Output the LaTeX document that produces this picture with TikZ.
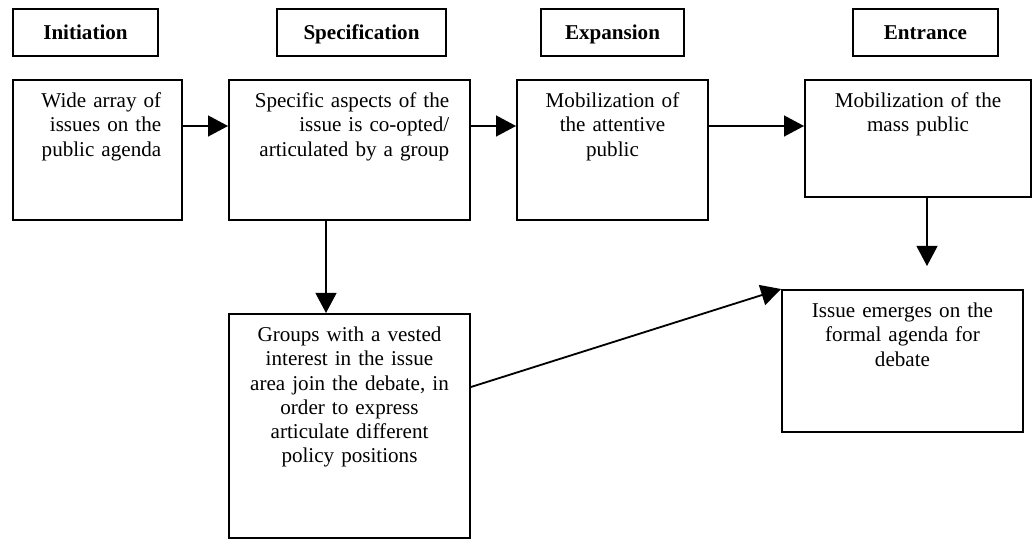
\documentclass[tikz,border=0pt]{standalone}
\usepackage{fontspec}
\setmainfont{Liberation Serif}
\usetikzlibrary{arrows.meta}

\begin{document}
\begin{tikzpicture}[x=0.025cm, y=-0.025cm, line width=1.3pt,
    >={Triangle[length=0.5cm, width=0.52cm]},
    stage/.style={draw, rectangle, minimum height=1.175cm, text height=0.35cm, text depth=0pt,
        font=\fontsize{15pt}{17.1pt}\selectfont\bfseries},
    box/.style={draw, rectangle, anchor=north, inner ysep=0pt, text height=0.7cm,
        font=\fontsize{15pt}{17.1pt}\selectfont},
    rbox/.style={box, align=right, inner xsep=0.52cm},
    cbox/.style={box, align=center, inner xsep=0.2cm}]
    \useasboundingbox (0,0) rectangle (1034,539);

    % Stages
    \node[stage, minimum width=3.625cm] (init) at (85.5,32.5) {Initiation};
    \node[stage, minimum width=4.225cm] (specif) at (361.5,32.5) {Specification};
    \node[stage, minimum width=3.575cm] (expan) at (612.5,32.5) {Expansion};
    \node[stage, minimum width=3.625cm] (entr) at (925.5,32.5) {Entrance};

    % Nodes
    \node[rbox, text width=3.185cm, text depth=2.8cm] (issues) at (97.5,79) {Wide array of\\issues on the\\public agenda};
    \node[rbox, text width=4.985cm, text depth=2.8cm] (coopt) at (349.5,79) {Specific aspects of the\\issue is co-opted/\\articulated by a group};
    \node[cbox, text width=4.375cm, text depth=2.8cm] (attentive) at (612.5,79) {Mobilization of\\the attentive\\public};
    \node[cbox, text width=5.25cm, text depth=2.225cm] (masspub) at (918,79) {Mobilization of the\\mass public};
    \node[cbox, text width=5.625cm, text depth=4.9cm] (groups) at (349.5,313) {Groups with a vested\\interest in the issue\\area join the debate, in\\order to express\\articulate different\\policy positions};
    \node[cbox, text width=5.625cm, text depth=2.85cm] (formal) at (902.5,289) {Issue emerges on the\\formal agenda for\\debate};

    % Arrows
    \coordinate (row) at (0,126);
    \coordinate (dropa) at (326,0);
    \coordinate (dropb) at (927,266);
    \coordinate (side) at (0,387);
    \draw[->] (issues.east |- row) -- (coopt.west |- row);
    \draw[->] (coopt.east |- row) -- (attentive.west |- row);
    \draw[->] (attentive.east |- row) -- (masspub.west |- row);
    \draw[->] (coopt.south -| dropa) -- (groups.north -| dropa);
    \draw[->] (masspub.south -| dropb) -- (dropb);
    \draw[->] (groups.east |- side) -- (formal.north west);
\end{tikzpicture}
\end{document}
